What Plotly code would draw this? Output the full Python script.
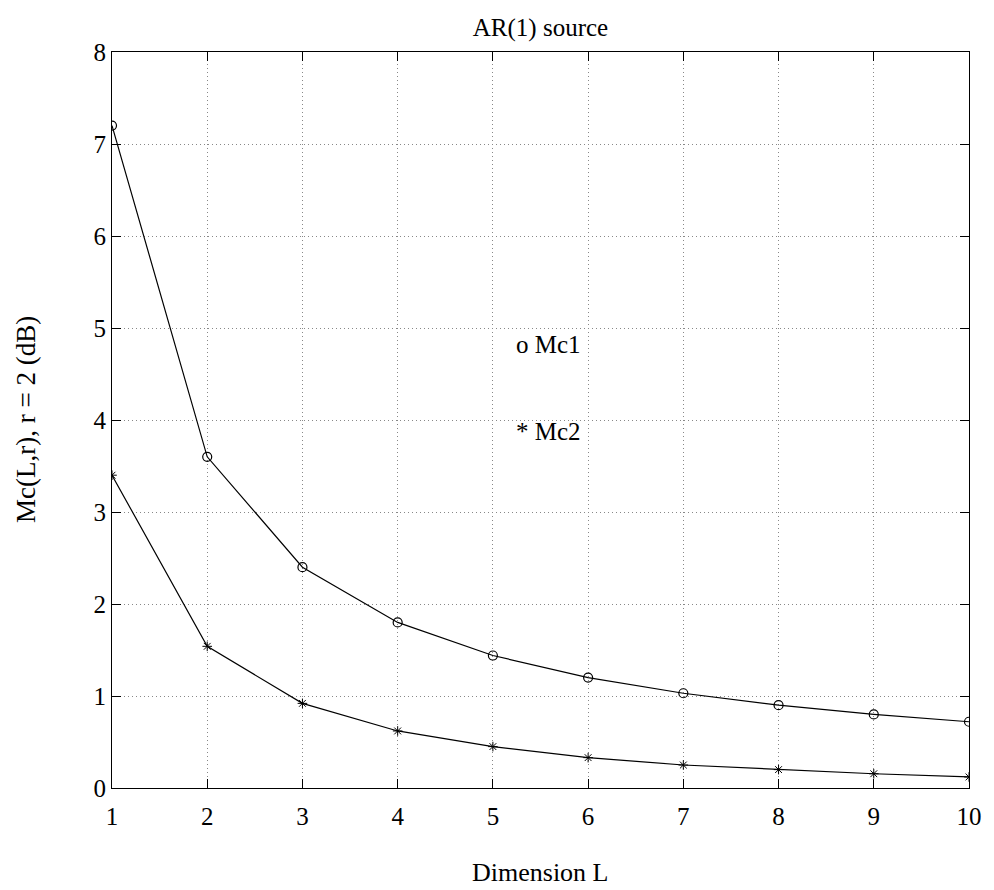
import plotly.graph_objects as go

# Dimension L and the two measures (dB)
dimension = [1, 2, 3, 4, 5, 6, 7, 8, 9, 10]
mc1 = [7.2, 3.6, 2.4, 1.8, 1.44, 1.2, 1.03, 0.9, 0.8, 0.72]
mc2 = [3.4, 1.54, 0.92, 0.62, 0.45, 0.33, 0.25, 0.2, 0.155, 0.12]

x_ticks = [1, 2, 3, 4, 5, 6, 7, 8, 9, 10]
y_ticks = [0, 1, 2, 3, 4, 5, 6, 7, 8]

FONT = "Liberation Serif, Times New Roman, serif"

fig = go.Figure()
fig.add_trace(go.Scatter(
    x=dimension, y=mc1, mode="lines+markers",
    line=dict(color="black", width=1.2),
    marker=dict(symbol="circle-open", size=9, color="black", line=dict(width=1.2)),
    showlegend=False,
))
fig.add_trace(go.Scatter(
    x=dimension, y=mc2, mode="lines+markers",
    line=dict(color="black", width=1.2),
    marker=dict(symbol="asterisk-open", size=8, color="black", line=dict(width=1)),
    showlegend=False,
))

# In-plot labels for the two curves
fig.add_annotation(x=5.22, y=4.82, text="o Mc1", showarrow=False,
                   xanchor="left", yanchor="middle",
                   font=dict(family=FONT, size=25, color="black"))
fig.add_annotation(x=5.22, y=3.87, text="* Mc2", showarrow=False,
                   xanchor="left", yanchor="middle",
                   font=dict(family=FONT, size=25, color="black"))

# Axis titles
fig.add_annotation(x=0.5, y=-0.0, xref="paper", yref="paper", yshift=-84,
                   text="Dimension L", showarrow=False,
                   xanchor="center", yanchor="middle",
                   font=dict(family=FONT, size=26, color="black"))
fig.add_annotation(x=0, y=0.5, xref="paper", yref="paper", xshift=-86,
                   text="Mc(L,r), r = 2 (dB)", showarrow=False, textangle=-90,
                   xanchor="center", yanchor="middle",
                   font=dict(family=FONT, size=27, color="black"))

axis_common = dict(
    showline=True, linecolor="black", linewidth=1.2, mirror="ticks",
    ticks="inside", ticklen=9, tickcolor="black", tickwidth=1,
    showgrid=True, gridcolor="#888888", griddash="1px,3px", gridwidth=1,
    zeroline=False,
    tickfont=dict(family=FONT, size=25, color="black"),
)

fig.update_xaxes(range=[1, 10], tickvals=x_ticks, ticktext=[str(v) for v in x_ticks],
                 ticklabelstandoff=6, **axis_common)
fig.update_yaxes(range=[0, 8], tickvals=y_ticks, ticktext=[str(v) for v in y_ticks],
                 **axis_common)

fig.update_layout(
    width=994, height=890,
    margin=dict(l=112, r=18, t=52, b=102),
    paper_bgcolor="white", plot_bgcolor="white",
    title=dict(text="AR(1) source", x=0.5, xref="paper", xanchor="center",
               y=1, yref="paper", yanchor="bottom", pad=dict(b=16),
               font=dict(family=FONT, size=25, color="black")),
    font=dict(family=FONT, color="black"),
)

fig.write_html("out.html")
